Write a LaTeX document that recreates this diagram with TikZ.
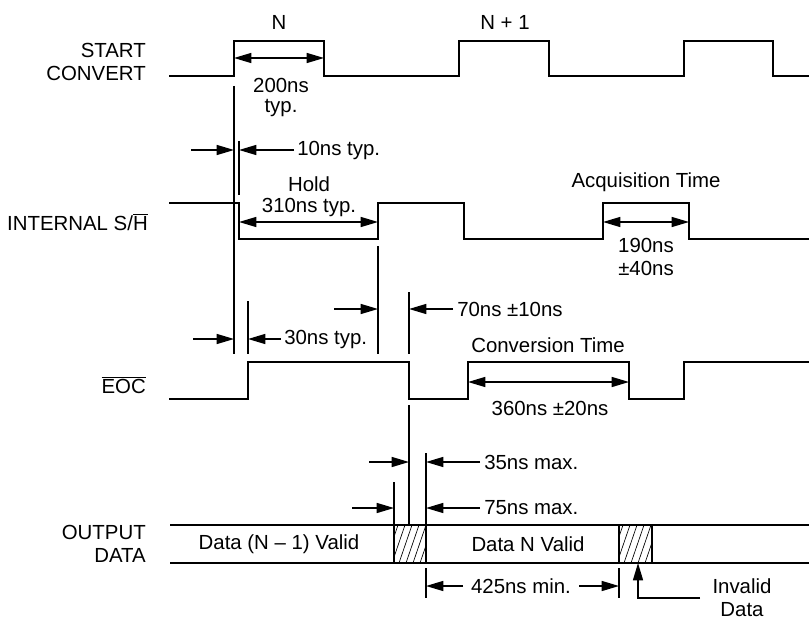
\documentclass[tikz,border=0pt]{standalone}
\usepackage{fontspec}
\setmainfont{Liberation Sans}
\usetikzlibrary{arrows.meta}

\begin{document}
\begin{tikzpicture}[x=0.75pt,y=-0.75pt,
                    wave/.style={line width=1.2pt},
                    tick/.style={line width=1.05pt},
                    dim/.style={line width=1.05pt,-{Triangle[length=13pt,width=7.5pt]}},
                    ddim/.style={line width=1.05pt,{Triangle[length=13pt,width=7.5pt]}-{Triangle[length=13pt,width=7.5pt]}},
                    txt/.style={font=\fontsize{15.3}{17.25}\selectfont,inner sep=0pt},
                    sig/.style={txt,anchor=east,align=right},
                    hatch/.style={line width=0.5pt}]
\useasboundingbox (0,0) rectangle (809,620);

% signal names
\node[sig] (start) at (146,61.5) {START\\CONVERT};
\node[sig] (sh) at (148,222) {INTERNAL S/$\overline{\mbox{H}}$};
\node[sig] (eoc) at (146,385) {$\overline{\mbox{EOC}}$};
\node[sig] (out) at (146,544) {OUTPUT\\DATA};

% waveforms
\draw[wave] (169,76) -- (234,76) -- (234,41) -- (324,41) -- (324,76) -- (459,76) -- (459,41)
            -- (549,41) -- (549,76) -- (684,76) -- (684,41) -- (773,41) -- (773,76) -- (809,76);
\draw[wave] (169,203) -- (239,203) -- (239,239) -- (378,239) -- (378,203) -- (464,203) -- (464,239)
            -- (603,239) -- (603,203) -- (689,203) -- (689,239) -- (809,239);
\draw[wave] (169,399) -- (248,399) -- (248,362) -- (409,362) -- (409,399) -- (468,399) -- (468,362)
            -- (629,362) -- (629,399) -- (684,399) -- (684,362) -- (809,362);
\draw[wave] (170,525) -- (809,525);
\draw[wave] (170,563) -- (809,563);

% invalid data boxes
\foreach \a/\b in {394/426, 619/652} {
  \begin{scope}
    \clip (\a,525) rectangle (\b,563);
    \foreach \k in {0,...,6}
      \draw[hatch] (\a-9+\k*7,563) -- ++(13,-38);
  \end{scope}
  \draw[tick] (\a,525) -- (\a,563);
  \draw[tick] (\b,525) -- (\b,563);
}

% reference points
\coordinate (sc1) at (234,58);   \coordinate (sc2) at (324,58);
\coordinate (sh1) at (239,222);  \coordinate (sh2) at (378,222);
\coordinate (sh3) at (603,222);  \coordinate (sh4) at (689,222);
\coordinate (eo1) at (468,382);  \coordinate (eo2) at (629,382);

% extension lines
\draw[tick] (234,86) -- (234,354);
\draw[tick] (239,141) -- (239,195);
\draw[tick] (378,246) -- (378,354);
\draw[tick] (409,292) -- (409,354);
\draw[tick] (248,301) -- (248,354);
\draw[tick] (409,405) -- (409,525);
\draw[tick] (394,482) -- (394,525);
\draw[tick] (426,453) -- (426,525);
\draw[tick] (426,568) -- (426,598);
\draw[tick] (619,568) -- (619,598);

% widths
\draw[ddim] (sc1) -- (sc2);
\draw[ddim] (sh1) -- (sh2);
\draw[ddim] (sh3) -- (sh4);
\draw[ddim] (eo1) -- (eo2);

% delays
\draw[dim] (191,150) -- (234,150);
\draw[dim] (294,150) -- (239,150);
\draw[dim] (334,309) -- (378,309);
\draw[dim] (453,309) -- (409,309);
\draw[dim] (193,339) -- (234,339);
\draw[dim] (281,339) -- (248,339);
\draw[dim] (369,462) -- (409,462);
\draw[dim] (480,462) -- (426,462);
\draw[dim] (352,508) -- (394,508);
\draw[dim] (480,508) -- (426,508);
\draw[dim] (463,586) -- (426,586);
\draw[dim] (579,586) -- (619,586);
\coordinate (inv) at (700,598);
\draw[dim] (inv) -| (638,563);

% texts
\node[txt] (tN) at (279,22) {N};
\node[txt] (tN1) at (505,22) {N + 1};
\node[txt] (t200) at (281,85) {200ns};
\node[txt] (t200b) at (281,108) {typ.};
\node[txt,anchor=west] (t10) at (297,150) {10ns typ.};
\node[txt] (thold) at (309,184) {Hold};
\node[txt] (t310) at (309,207) {310ns typ.};
\node[txt] (tacq) at (646,182) {Acquisition Time};
\node[txt] (t190) at (646,245) {190ns};
\node[txt] (t40) at (646,268) {±40ns};
\node[txt,anchor=west] (t70) at (457,309) {70ns ±10ns};
\node[txt,anchor=west] (t30) at (284,339) {30ns typ.};
\node[txt] (tconv) at (548,345) {Conversion Time};
\node[txt] (t360) at (550,408) {360ns ±20ns};
\node[txt,anchor=west] (t35) at (484,462) {35ns max.};
\node[txt,anchor=west] (t75) at (484,508) {75ns max.};
\node[txt] (dprev) at (279,544) {Data (N – 1) Valid};
\node[txt] (dcur) at (528,544) {Data N Valid};
\node[txt] (t425) at (521,586) {425ns min.};
\node[txt] (tinv) at (742,586) {Invalid};
\node[txt] (tinvb) at (742,610) {Data};
\end{tikzpicture}
\end{document}
